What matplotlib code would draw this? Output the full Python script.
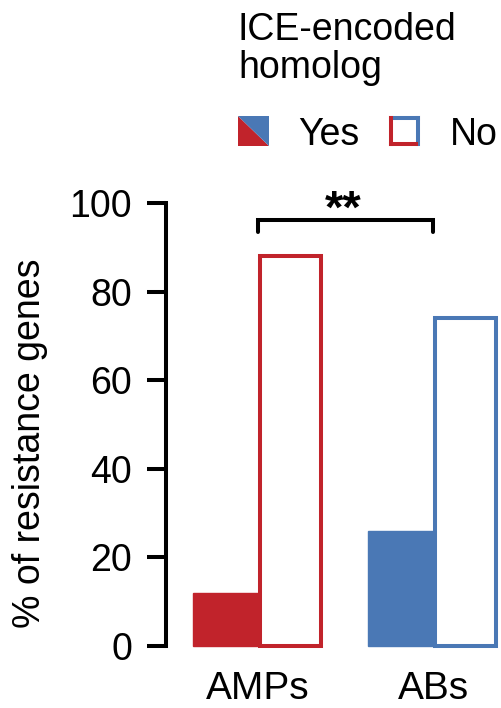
import matplotlib
matplotlib.use("Agg")
import matplotlib.pyplot as plt
from matplotlib.patches import Polygon
from matplotlib.lines import Line2D

plt.rcParams['font.family'] = ['Liberation Sans', 'DejaVu Sans']

# Data
categories = ["AMPs", "ABs"]
yes_pct = [12, 26]
no_pct = [88, 74]
group_colors = ["#C1232B", "#4A78B5"]
y_ticks = [0, 20, 40, 60, 80, 100]
legend_title = ["ICE-encoded", "homolog"]
legend_labels = ["Yes", "No"]
signif = "**"

W, H = 501, 708
fig = plt.figure(figsize=(W / 100, H / 100), dpi=100)

# Main axes (pixel layout converted to figure fractions)
ax_left, ax_right, ax_bottom, ax_top = 166, 501, 646, 203
ax = fig.add_axes([ax_left / W, (H - ax_bottom) / H,
                   (ax_right - ax_left) / W, (ax_bottom - ax_top) / H])

group_px = 175.0
first_center_px = 258.0
bar_w = 65 / group_px
ax.set_xlim((ax_left - first_center_px) / group_px, (ax_right - first_center_px) / group_px)
ax.set_ylim(0, 100)

lw = 2.9
for i, (y, n, c) in enumerate(zip(yes_pct, no_pct, group_colors)):
    ax.bar(i - bar_w / 2, y, width=bar_w, color=c, edgecolor=c, linewidth=1.0,
           clip_on=False, zorder=2)
    ax.bar(i + bar_w / 2, n, width=bar_w * 0.95, facecolor="white", edgecolor=c,
           linewidth=lw, clip_on=False, zorder=3)

# Axis styling
for s in ["top", "right", "bottom"]:
    ax.spines[s].set_visible(False)
ax.spines["left"].set_linewidth(lw)
ax.spines["left"].set_bounds(0, 100)
ax.set_yticks(y_ticks)
ax.set_yticklabels([str(t) for t in y_ticks])
ax.tick_params(axis="y", direction="out", length=13.5, width=lw, pad=11,
               labelsize=27)
ax.set_xticks(range(len(categories)))
ax.set_xticklabels(categories)
ax.tick_params(axis="x", length=0, pad=18, labelsize=28)
ax.set_ylabel("% of resistance genes", fontsize=27, va="center")
ax.yaxis.set_label_coords((30 - ax_left) / (ax_right - ax_left),
                          (ax_bottom - 443) / (ax_bottom - ax_top))

# Significance bracket between the two "No" groups
br_y, br_drop = 96.2, 93.5
ax.plot([0, 0, 1, 1], [br_drop, br_y, br_y, br_drop], color="black",
        linewidth=lw, solid_capstyle="round", solid_joinstyle="miter",
        clip_on=False, zorder=4)
ax.text(0.485, 93.3, signif, ha="center", va="bottom", fontsize=34,
        fontweight="bold", clip_on=False)

# Legend drawn in pixel space on an overlay
lg = fig.add_axes([0, 0, 1, 1], facecolor="none")
lg.set_xlim(0, W)
lg.set_ylim(H, 0)
lg.axis("off")

lg.text(238, 40, legend_title[0], fontsize=27, ha="left", va="baseline")
lg.text(238, 78, legend_title[1], fontsize=27, ha="left", va="baseline")

red, blue = group_colors
x0, x1, y0, y1 = 238, 269, 116, 146
lg.add_patch(Polygon([(x0, y0), (x0, y1), (x1, y1)], closed=True,
                     facecolor=red, edgecolor="none"))
lg.add_patch(Polygon([(x0, y0), (x1, y0), (x1, y1)], closed=True,
                     facecolor=blue, edgecolor="none"))
lg.text(298, 131, legend_labels[0], fontsize=27, ha="left", va="center_baseline")

x0, x1 = 391, 418
lg.add_line(Line2D([x0, x1], [118, 118], color=blue, linewidth=lw,
                   solid_capstyle="projecting"))
lg.add_line(Line2D([x1, x1], [118, 144], color=blue, linewidth=lw,
                   solid_capstyle="projecting"))
lg.add_line(Line2D([x0, x0], [118, 144], color=red, linewidth=lw,
                   solid_capstyle="projecting"))
lg.add_line(Line2D([x0, x1 - 2], [144, 144], color=red, linewidth=lw,
                   solid_capstyle="projecting"))
lg.text(450, 131, legend_labels[1], fontsize=27, ha="left", va="center_baseline")

fig.savefig("out.png", dpi=100)
